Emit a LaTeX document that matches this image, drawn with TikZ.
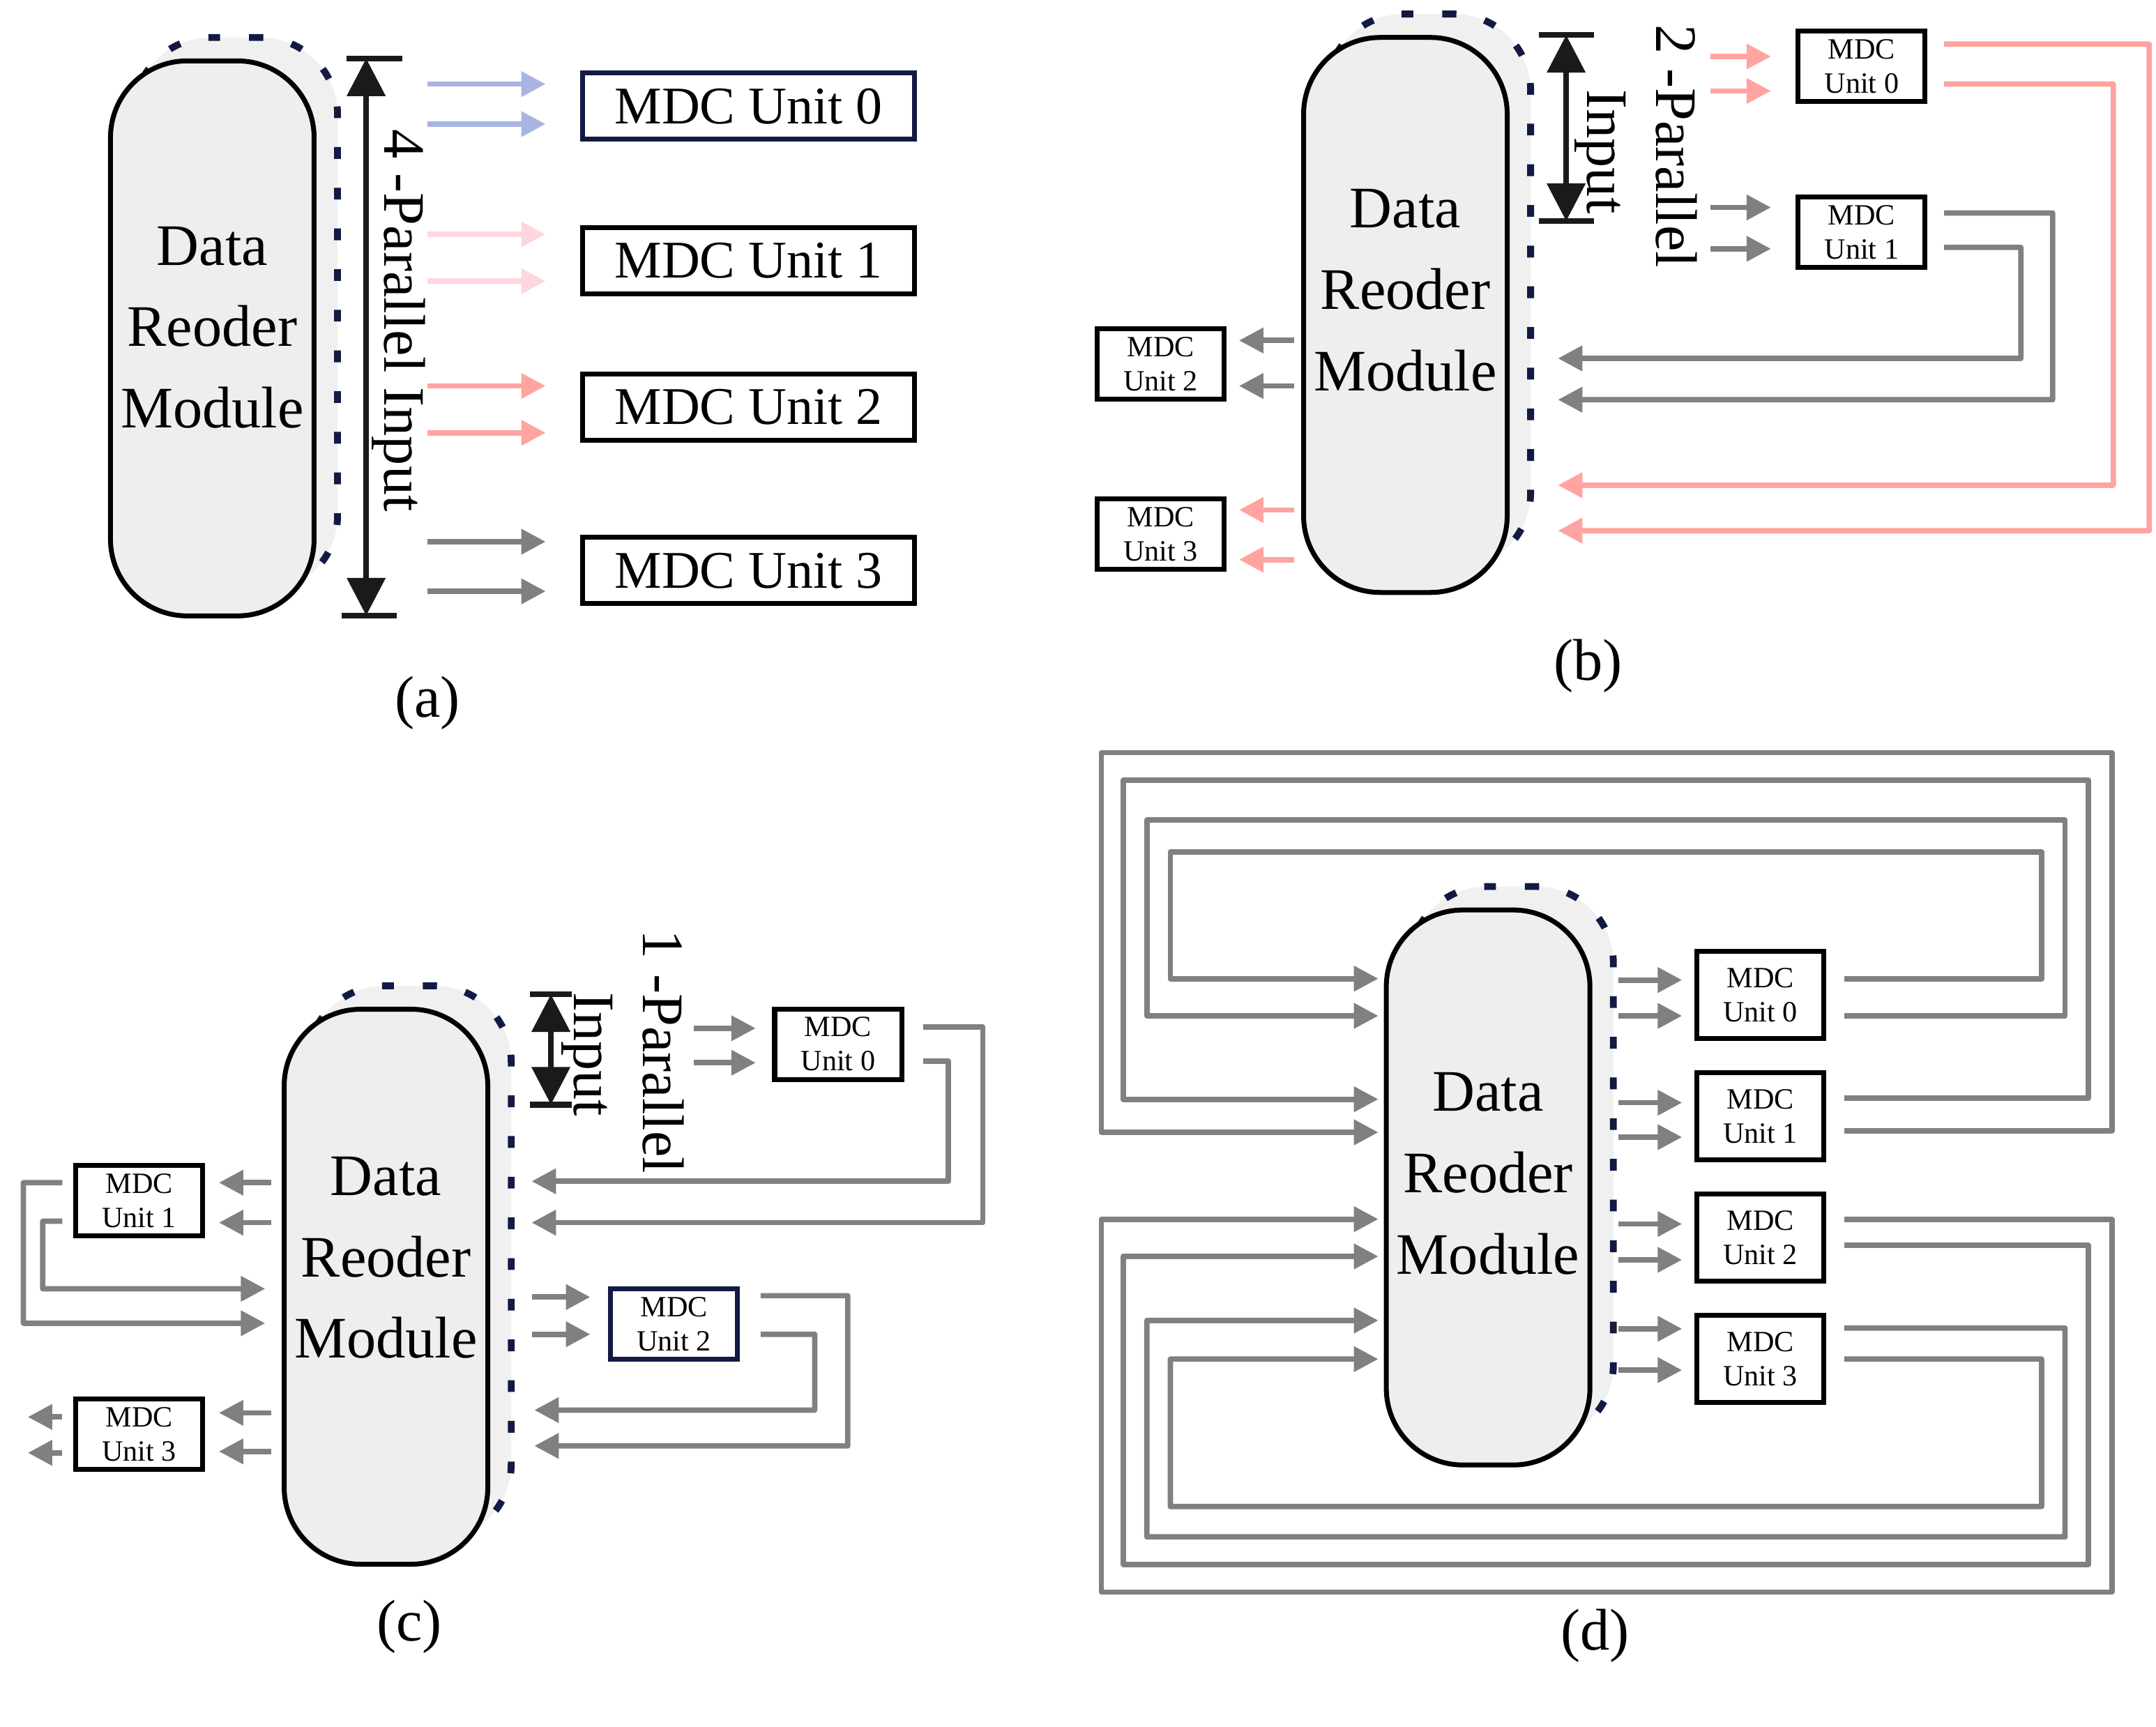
\documentclass[tikz,border=0pt]{standalone}
\usepackage{fontspec}
\setmainfont{Liberation Serif}
\usepackage{xcolor}
\usepackage{tikz}
\usetikzlibrary{arrows.meta,calc,positioning}

\definecolor{navy}{HTML}{121A44}
\definecolor{mgray}{HTML}{808080}
\definecolor{salmon}{HTML}{FFA4A0}
\definecolor{lpink}{HTML}{FFD6DE}
\definecolor{lblue}{HTML}{A9B5E1}
\definecolor{modfill}{HTML}{EEEEEE}
\definecolor{backfill}{HTML}{F0F0F0}
\definecolor{dimblack}{HTML}{1A1A1A}

\tikzset{
  module/.style={draw=black, line width=1pt, fill=modfill, rounded corners=5.5mm,
    minimum width=14.6mm, minimum height=39.8mm, inner sep=0pt},
  modback/.style={module, draw=navy, fill=backfill, line width=1.4pt,
    dash pattern=on 2.4pt off 5.9pt},
  modtext/.style={align=center, inner sep=0pt, font=\fontsize{12}{16.6}\selectfont},
  unitbig/.style={draw=black, line width=1pt, fill=white, minimum width=23.8mm,
    minimum height=4.75mm, inner sep=0pt, font=\fontsize{10.8}{13}\selectfont},
  unitsmall/.style={draw=black, line width=1pt, fill=white, minimum width=9.1mm,
    minimum height=5.05mm, inner sep=0pt, align=center, font=\fontsize{6}{7}\selectfont},
  partext/.style={rotate=-90, inner sep=0pt, font=\fontsize{12}{14}\selectfont},
  subcap/.style={inner sep=0pt, font=\fontsize{12}{14}\selectfont},
  headline/.style={-{Triangle[length=1.75mm,width=1.75mm]}, line width=1.1pt, line join=round},
  garrow/.style={headline, draw=mgray},
  parrow/.style={headline, draw=salmon},
  barrow/.style={headline, draw=lblue},
  lparrow/.style={headline, draw=lpink},
  dimarrow/.style={{Triangle[length=2.7mm,width=2.7mm]}-{Triangle[length=2.7mm,width=2.7mm]},
    line width=1.1pt, draw=dimblack},
  dimbar/.style={line width=1.2pt, draw=dimblack}
}

\begin{document}
\begin{tikzpicture}[x=0.09885mm, y=-0.09885mm]
  \useasboundingbox (0,0) rectangle (1564,1252.5);

  % (a)
  \node[modback] (amb) at (171,228.5) {};
  \node[module] (am) at (154,245.5) {};
  \node[modtext] (amt) at ($(am)+(0,-8)$) {Data\\Reoder\\Module};

  \node[unitbig, draw=navy] (a0) at (543,77) {MDC Unit 0};
  \node[unitbig] (a1) at (543,189) {MDC Unit 1};
  \node[unitbig] (a2) at (543,295.5) {MDC Unit 2};
  \node[unitbig] (a3) at (543,414) {MDC Unit 3};

  \draw[barrow] ($(a0.west)+(-111,-16)$) -- ++(86,0);
  \draw[barrow] ($(a0.west)+(-111,13)$) -- ++(86,0);
  \draw[lparrow] ($(a1.west)+(-111,-19)$) -- ++(86,0);
  \draw[lparrow] ($(a1.west)+(-111,15)$) -- ++(86,0);
  \draw[parrow] ($(a2.west)+(-111,-15.5)$) -- ++(86,0);
  \draw[parrow] ($(a2.west)+(-111,18.5)$) -- ++(86,0);
  \draw[garrow] ($(a3.west)+(-111,-21)$) -- ++(86,0);
  \draw[garrow] ($(a3.west)+(-111,15)$) -- ++(86,0);

  % |
  \coordinate (adt) at ($(am.north east)+(36,0)$);
  \coordinate (adb) at ($(am.south east)+(36,-2)$);
  \draw[dimarrow] (adt) -- (adb);
  \draw[dimbar] ($(adt)+(-14,0)$) -- ++(40,0);
  \draw[dimbar] ($(adb)+(-18,0)$) -- ++(40,0);
  \node[partext] (alab) at (289,232.5) {4 -Parallel Input};
  \node[subcap] (acap) at (310,510) {(a)};

  % (b)
  \node[modback] (bmb) at (1036.5,211.5) {};
  \node[module] (bm) at (1019.5,228.5) {};
  \node[modtext] (bmt) at ($(bm)+(0,-18)$) {Data\\Reoder\\Module};

  \node[unitsmall] (b0) at (1350.5,48) {MDC\\Unit 0};
  \node[unitsmall] (b1) at (1350.5,168.5) {MDC\\Unit 1};
  \node[unitsmall] (b2) at (842,264) {MDC\\Unit 2};
  \node[unitsmall] (b3) at (842,387.5) {MDC\\Unit 3};

  \draw[parrow] ($(b0.west)+(-62,-7)$) -- ++(44,0);
  \draw[parrow] ($(b0.west)+(-62,18)$) -- ++(44,0);
  \draw[garrow] ($(b1.west)+(-62,-18)$) -- ++(44,0);
  \draw[garrow] ($(b1.west)+(-62,12)$) -- ++(44,0);

  \draw[parrow] ($(b0.east)+(12,-16)$) -| (1559,385) -- ($(bm.east)+(35,156.5)$);
  \draw[parrow] ($(b0.east)+(12,13)$) -| (1533,352) -- ($(bm.east)+(35,123.5)$);
  \draw[garrow] ($(b1.east)+(12,-14)$) -| (1489,290) -- ($(bm.east)+(35,61.5)$);
  \draw[garrow] ($(b1.east)+(12,11)$) -| (1466,260) -- ($(bm.east)+(35,31.5)$);

  \draw[garrow] ($(b2.east)+(49,-17)$) -- ++(-40,0);
  \draw[garrow] ($(b2.east)+(49,16)$) -- ++(-40,0);
  \draw[parrow] ($(b3.east)+(49,-17.5)$) -- ++(-40,0);
  \draw[parrow] ($(b3.east)+(49,18.5)$) -- ++(-40,0);

  % |
  \coordinate (bdt) at ($(bm.north east)+(41,0)$);
  \coordinate (bdb) at ($(bm.north east)+(41,135)$);
  \draw[dimarrow] (bdt) -- (bdb);
  \draw[dimbar] ($(bdt)+(-20,0)$) -- ++(40,0);
  \draw[dimbar] ($(bdb)+(-20,0)$) -- ++(40,0);
  \node[partext] (binp) at (1161,110) {Input};
  \node[partext] (blab) at (1216,106) {2 -Parallel};
  \node[subcap] (bcap) at (1152,483) {(b)};

  % (c)
  \node[modback] (cmb) at (297,916.5) {};
  \node[module] (cm) at (280,933.5) {};
  \node[modtext] (cmt) at ($(cm)+(0,-21)$) {Data\\Reoder\\Module};

  \node[unitsmall] (c0) at (608,757.5) {MDC\\Unit 0};
  \node[unitsmall] (c1) at (101,871) {MDC\\Unit 1};
  \node[unitsmall, draw=navy] (c2) at (489,960.5) {MDC\\Unit 2};
  \node[unitsmall] (c3) at (101,1040.5) {MDC\\Unit 3};

  \draw[garrow] ($(c0.west)+(-57,-11.5)$) -- ++(45,0);
  \draw[garrow] ($(c0.west)+(-57,13.5)$) -- ++(45,0);
  \draw[garrow] ($(c0.east)+(14,-12.5)$) -| (713,887) -- ($(cm.east)+(30,-46.5)$);
  \draw[garrow] ($(c0.east)+(14,12.5)$) -| (688,857) -- ($(cm.east)+(30,-76.5)$);

  \draw[garrow] ($(c2.west)+(-55,-19.5)$) -- ++(42,0);
  \draw[garrow] ($(c2.west)+(-55,7.5)$) -- ++(42,0);
  \draw[garrow] ($(c2.east)+(15,-20.5)$) -| (615,1049) -- ($(cm.east)+(32,115.5)$);
  \draw[garrow] ($(c2.east)+(15,7.5)$) -| (591,1023) -- ($(cm.east)+(32,89.5)$);

  \draw[garrow] ($(c1.east)+(48,-13)$) -- ++(-38,0);
  \draw[garrow] ($(c1.east)+(48,16)$) -- ++(-38,0);
  \draw[garrow] ($(c1.west)+(-8,-13)$) -| (17,960) -- ($(cm.west)+(-12,26.5)$);
  \draw[garrow] ($(c1.west)+(-8,15)$) -| (31,935) -- ($(cm.west)+(-12,1.5)$);

  \draw[garrow] ($(c3.east)+(48,-15.5)$) -- ++(-38,0);
  \draw[garrow] ($(c3.east)+(48,12.5)$) -- ++(-38,0);
  \draw[garrow] ($(c3.west)+(-8,-12.5)$) -- ++(-25,0);
  \draw[garrow] ($(c3.west)+(-8,13.5)$) -- ++(-25,0);

  % |
  \coordinate (cdt) at ($(cm.north east)+(44,-9)$);
  \coordinate (cdb) at ($(cm.north east)+(44,71)$);
  \draw[dimarrow] (cdt) -- (cdb);
  \draw[dimbar] ($(cdt)+(-15,0)$) -- ++(30,0);
  \draw[dimbar] ($(cdb)+(-15,0)$) -- ++(30,0);
  \node[partext] (cinp) at (426,765) {Input};
  \node[partext] (clab) at (481,763) {1 -Parallel};
  \node[subcap] (ccap) at (297,1180) {(c)};

  % (d)
  \node[modback] (dmb) at (1096.5,844.5) {};
  \node[module] (dm) at (1079.5,861.5) {};
  \node[modtext] (dmt) at ($(dm)+(0,-10)$) {Data\\Reoder\\Module};

  \node[unitsmall, minimum height=6.25mm] (d0) at (1277,722) {MDC\\Unit 0};
  \node[unitsmall, minimum height=6.25mm] (d1) at (1277,810) {MDC\\Unit 1};
  \node[unitsmall, minimum height=6.25mm] (d2) at (1277,898) {MDC\\Unit 2};
  \node[unitsmall, minimum height=6.25mm] (d3) at (1277,986) {MDC\\Unit 3};

  \draw[garrow] ($(d0.west)+(-55,-11)$) -- ++(46,0);
  \draw[garrow] ($(d0.west)+(-55,15)$) -- ++(46,0);
  \draw[garrow] ($(d1.west)+(-55,-10)$) -- ++(46,0);
  \draw[garrow] ($(d1.west)+(-55,15)$) -- ++(46,0);
  \draw[garrow] ($(d2.west)+(-55,-10)$) -- ++(46,0);
  \draw[garrow] ($(d2.west)+(-55,16)$) -- ++(46,0);
  \draw[garrow] ($(d3.west)+(-55,-22)$) -- ++(46,0);
  \draw[garrow] ($(d3.west)+(-55,8)$) -- ++(46,0);

  % loops
  \draw[garrow] ($(d0.east)+(13,-12)$) -| (1481,618) -| (849,710) -- ($(dm.west)+(-4,-151.5)$);
  \draw[garrow] ($(d0.east)+(13,15)$) -| (1498,595) -| (832,737) -- ($(dm.west)+(-4,-124.5)$);
  \draw[garrow] ($(d1.east)+(13,-13.5)$) -| (1515,566) -| (815,797.5) -- ($(dm.west)+(-4,-64)$);
  \draw[garrow] ($(d1.east)+(13,10.5)$) -| (1532,546) -| (799,821.5) -- ($(dm.west)+(-4,-40)$);
  \draw[garrow] ($(d2.east)+(13,-13.5)$) -| (1532,1155) -| (799,884.5) -- ($(dm.west)+(-4,23)$);
  \draw[garrow] ($(d2.east)+(13,5.5)$) -| (1515,1135) -| (815,911.5) -- ($(dm.west)+(-4,50)$);
  \draw[garrow] ($(d3.east)+(13,-22.5)$) -| (1498,1115) -| (832,958) -- ($(dm.west)+(-4,96.5)$);
  \draw[garrow] ($(d3.east)+(13,0)$) -| (1481,1093) -| (849,986) -- ($(dm.west)+(-4,124.5)$);

  \node[subcap] (dcap) at (1157,1187) {(d)};
\end{tikzpicture}
\end{document}
